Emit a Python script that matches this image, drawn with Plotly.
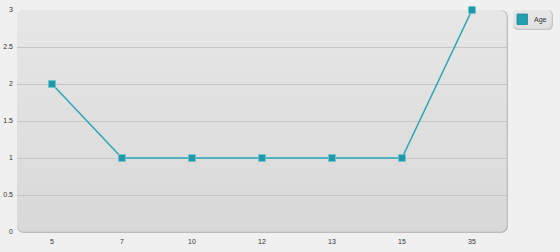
import base64, struct, zlib
import numpy as np
import plotly.graph_objects as go

categories = ["5", "7", "10", "12", "13", "15", "35"]
age_values = [2, 1, 1, 1, 1, 1, 3]
series_name = "Age"

W, H = 560, 252
ML, MR, MT, MB = 17, 53, 10, 20
PW, PH = W - ML - MR, H - MT - MB


def png_uri(arr):
    h, w, _ = arr.shape
    raw = b"".join(b"\x00" + arr[r].tobytes() for r in range(h))

    def chunk(t, d):
        c = struct.pack(">I", len(d)) + t + d
        return c + struct.pack(">I", zlib.crc32(t + d) & 0xFFFFFFFF)

    png = b"\x89PNG\r\n\x1a\n" + chunk(b"IHDR", struct.pack(">IIBBBBB", w, h, 8, 6, 0, 0, 0))
    png += chunk(b"IDAT", zlib.compress(raw, 9)) + chunk(b"IEND", b"")
    return "data:image/png;base64," + base64.b64encode(png).decode()


def rr_alpha(xx, yy, w, h, r):
    cx = np.clip(xx + 0.5, r, w - r)
    cy = np.clip(yy + 0.5, r, h - r)
    d = np.hypot(xx + 0.5 - cx, yy + 0.5 - cy)
    inside = (xx + 0.5 <= w) & (yy + 0.5 <= h)
    return np.clip(r - d + 0.5, 0, 1) * inside


def rounded_panel(w, h, r, top, bot, edge, ew=1.3):
    yy, xx = np.mgrid[0:h, 0:w].astype(float)
    alpha = rr_alpha(xx, yy, w, h, r)
    inner = rr_alpha(xx, yy, w - ew, h - ew, r)
    t = (yy / (h - 1))[..., None]
    col = np.array(top, float) * (1 - t) + np.array(bot, float) * t
    e = (1 - inner)[..., None]
    col = col * (1 - e) + np.array(edge, float) * e
    out = np.zeros((h, w, 4), np.uint8)
    out[..., :3] = np.clip(col, 0, 255).astype(np.uint8)
    out[..., 3] = (alpha * 255).astype(np.uint8)
    return out


panel = rounded_panel(PW + 1, PH + 1, 7, (231, 231, 231), (217, 217, 217), (188, 188, 188))
legend_img = rounded_panel(40, 20, 5, (232, 232, 232), (224, 224, 224), (198, 198, 198))


def px_x(p):
    return (p - ML) / PW


def px_y(p):
    return (H - MB - p) / PH


fig = go.Figure()
fig.add_trace(go.Scatter(
    x=categories, y=age_values, name=series_name, mode="lines+markers",
    line=dict(color="#2aa7b7", width=1.5),
    marker=dict(symbol="square", size=7, color="#1f98a8",
                line=dict(color="#6cc8d3", width=0.8)),
    cliponaxis=False, showlegend=False,
))

fig.add_layout_image(dict(source=png_uri(panel), xref="paper", yref="paper",
                          x=0, y=1, sizex=(PW + 1) / PW, sizey=(PH + 1) / PH,
                          xanchor="left", yanchor="top", sizing="stretch", layer="below"))
fig.add_layout_image(dict(source=png_uri(legend_img), xref="paper", yref="paper",
                          x=px_x(513), y=px_y(10), sizex=40 / PW, sizey=20 / PH,
                          xanchor="left", yanchor="top", sizing="stretch", layer="below"))
fig.add_shape(type="rect", xref="paper", yref="paper",
              x0=px_x(517), x1=px_x(527.5), y0=px_y(24.5), y1=px_y(14),
              fillcolor="#22a0b0", line=dict(color="#1a8a99", width=0.8))
fig.add_annotation(text=series_name, xref="paper", yref="paper", x=px_x(532), y=px_y(19.5),
                   xanchor="left", yanchor="middle", showarrow=False,
                   font=dict(size=7, color="#333333", family="Liberation Sans"))

fig.update_layout(
    width=W, height=H, margin=dict(l=ML, r=MR, t=MT, b=MB, autoexpand=False),
    paper_bgcolor="#f0f0f0", plot_bgcolor="rgba(0,0,0,0)",
    font=dict(family="Liberation Sans", size=7, color="#333333"),
    xaxis=dict(type="category", categoryorder="array", categoryarray=categories,
               range=[-0.5, len(categories) - 0.5], showgrid=False, zeroline=False,
               showline=False, ticks="", ticklabelstandoff=4, fixedrange=True,
               automargin=False),
    yaxis=dict(range=[0, 3], dtick=0.5, showgrid=True, gridcolor="#c6c6c6", gridwidth=1,
               zeroline=False, showline=False, ticks="", ticklabelstandoff=3,
               fixedrange=True, automargin=False),
    showlegend=False,
)

fig.write_html("out.html")
